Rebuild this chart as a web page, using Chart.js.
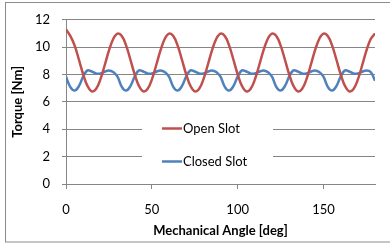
<!DOCTYPE html>
<html>
<head>
<meta charset="utf-8">
<script src="https://cdn.jsdelivr.net/npm/chart.js@4"></script>
<style>
  html,body{margin:0;padding:0;background:#fff}
  #wrap{width:390px;height:243px;position:relative}
</style>
</head>
<body>
<div id="wrap"><canvas id="c" width="390" height="243"></canvas></div>
<script>
// mechanical angle [deg]
const angle = [0,2.5,5,7.5,10,12.5,15,17.5,20,22.5,25,27.5,
  30,32.5,35,37.5,40,42.5,45,47.5,50,52.5,55,57.5,
  60,62.5,65,67.5,70,72.5,75,77.5,80,82.5,85,87.5,
  90,92.5,95,97.5,100,102.5,105,107.5,110,112.5,115,117.5,
  120,122.5,125,127.5,130,132.5,135,137.5,140,142.5,145,147.5,
  150,152.5,155,157.5,160,162.5,165,167.5,170,172.5,175,177.5,
  180];

// torque [Nm]
const openSlot = [11.3,10.82,10.13,9.10,8.02,7.17,6.77,6.94,7.63,8.66,9.74,10.60,
  10.99,10.82,10.13,9.10,8.02,7.17,6.77,6.94,7.63,8.66,9.74,10.60,
  10.99,10.82,10.13,9.10,8.02,7.17,6.77,6.94,7.63,8.66,9.74,10.60,
  10.99,10.82,10.13,9.10,8.02,7.17,6.77,6.94,7.63,8.66,9.74,10.60,
  10.99,10.82,10.13,9.10,8.02,7.17,6.77,6.94,7.63,8.66,9.74,10.60,
  10.99,10.82,10.13,9.10,8.02,7.17,6.77,6.94,7.63,8.66,9.74,10.60,
  10.99];
const closedSlot = [7.84,7.10,6.83,7.15,7.85,8.30,8.22,8.08,8.08,8.20,8.30,8.18,
  7.84,7.10,6.83,7.15,7.85,8.30,8.22,8.08,8.08,8.20,8.30,8.18,
  7.84,7.10,6.83,7.15,7.85,8.30,8.22,8.08,8.08,8.20,8.30,8.18,
  7.84,7.10,6.83,7.15,7.85,8.30,8.22,8.08,8.08,8.20,8.30,8.18,
  7.84,7.10,6.83,7.15,7.85,8.30,8.22,8.08,8.08,8.20,8.30,8.18,
  7.84,7.10,6.83,7.15,7.85,8.30,8.22,8.08,8.08,8.20,8.30,8.18,
  7.55];

const seriesNames = ['Open Slot','Closed Slot'];
const xTicks = [0,50,100,150];
const xTitle = 'Mechanical Angle [deg]';
const yTitle = 'Torque [Nm]';

const RED = '#C0504D', BLUE = '#4F81BD', GRID = '#868686';
const FONT = 'Lato';

// legend sits inside the plot, over the grid lines
const boxLegend = {
  id:'boxLegend',
  beforeDatasetsDraw(chart){
    const ctx = chart.ctx;
    ctx.save();
    ctx.fillStyle = '#fff';
    ctx.fillRect(142, 112, 131, 58);
    const rows = [[seriesNames[0], RED, 128.5],[seriesNames[1], BLUE, 161.5]];
    rows.forEach(r=>{
      ctx.strokeStyle = r[1];
      ctx.lineWidth = 2.5;
      ctx.beginPath();
      ctx.moveTo(162, r[2]); ctx.lineTo(182, r[2]);
      ctx.stroke();
      ctx.fillStyle = '#000';
      ctx.font = '13px ' + FONT;
      ctx.textBaseline = 'middle';
      ctx.fillText(r[0], 183, r[2]);
    });
    ctx.restore();
  }
};

const frame = {
  id:'frame',
  afterDraw(chart){
    const ctx = chart.ctx;
    ctx.save();
    ctx.strokeStyle = '#8c8c8c';
    ctx.lineWidth = 1;
    ctx.strokeRect(5.5, 2.5, 400, 239.5);
    ctx.restore();
  }
};

new Chart(document.getElementById('c'), {
  type:'line',
  data:{
    datasets:[
      {label:seriesNames[0], data:angle.map((a,i)=>({x:a,y:openSlot[i]})), borderColor:RED, borderWidth:2.5, pointRadius:0, tension:0.4, fill:false},
      {label:seriesNames[1], data:angle.map((a,i)=>({x:a,y:closedSlot[i]})), borderColor:BLUE, borderWidth:2.5, pointRadius:0, tension:0.4, fill:false}
    ]
  },
  options:{
    responsive:false,
    animation:false,
    devicePixelRatio:1,
    layout:{padding:{top:14,right:15,left:0,bottom:0}},
    plugins:{legend:{display:false}, tooltip:{enabled:false}},
    scales:{
      x:{
        type:'linear', min:0, max:180,
        afterBuildTicks: s => { s.ticks = xTicks.map(v=>({value:v})); },
        afterFit: s => { s.height = 59; },
        grid:{drawOnChartArea:false, drawTicks:true, tickLength:5, color:GRID},
        border:{color:GRID},
        ticks:{color:'#000', font:{family:FONT, size:13}, padding:13, maxRotation:0},
        title:{display:true, text:xTitle, color:'#000', font:{family:FONT, size:13, weight:'bold'}, padding:{top:0,bottom:4}}
      },
      y:{
        min:0, max:12,
        afterFit: s => { s.width = 66; },
        grid:{color:GRID, tickLength:4},
        border:{color:GRID},
        ticks:{stepSize:2, color:'#000', font:{family:FONT, size:13}, padding:12},
        title:{display:true, text:yTitle, color:'#000', font:{family:FONT, size:13, weight:'bold'}, padding:{top:10,bottom:0}}
      }
    }
  },
  plugins:[boxLegend, frame]
});
</script>
</body>
</html>
